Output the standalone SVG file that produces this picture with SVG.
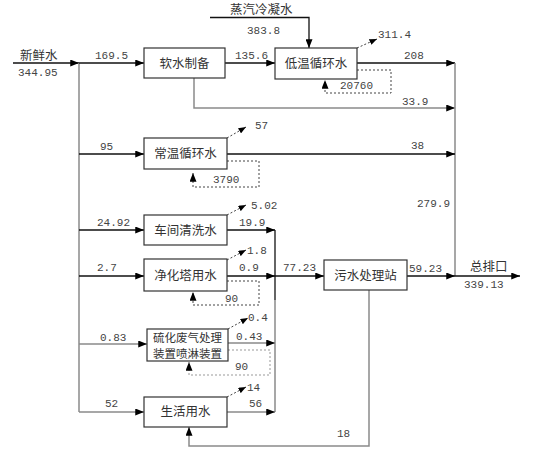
<svg xmlns="http://www.w3.org/2000/svg" width="541" height="456" viewBox="0 0 541 456">
<style>
.box{fill:#fff;stroke:#333;stroke-width:1.2}
.bl{fill:none;stroke:#111;stroke-width:1.3}
.gl{fill:none;stroke:#8a8a8a;stroke-width:1.5}
.dl{fill:none;stroke:#444;stroke-width:1;stroke-dasharray:2 2}
.dg{fill:none;stroke:#999;stroke-width:1;stroke-dasharray:2 2}
.n{font-family:"Liberation Mono",monospace;font-size:11px;fill:#444}
.c{font-family:"Noto Sans CJK SC",sans-serif;font-size:12.5px;fill:#333}
.ct{font-family:"Noto Sans CJK SC",sans-serif;font-size:12.5px;fill:#333;text-anchor:middle}
.cs{font-family:"Noto Sans CJK SC",sans-serif;font-size:11.5px;fill:#333;text-anchor:middle}
</style>
<defs>
<marker id="a" viewBox="0 0 10 8" refX="10" refY="4" markerWidth="10" markerHeight="7" markerUnits="userSpaceOnUse" orient="auto"><path d="M0,0 L10,4 L0,8 z" fill="#000"/></marker>
<marker id="s" viewBox="0 0 10 8" refX="10" refY="4" markerWidth="8" markerHeight="6" markerUnits="userSpaceOnUse" orient="auto"><path d="M0,0 L10,4 L0,8 z" fill="#000"/></marker>
</defs>
<g id="connectors">
<path class="bl" d="M13,63 H79" marker-end="url(#a)"/>
<path class="gl" d="M79,63 V412"/>
<path class="bl" d="M79,63 H144" marker-end="url(#a)"/>
<path class="bl" d="M225,63 H275" marker-end="url(#a)"/>
<path class="bl" d="M210,17.5 H309 V48" marker-end="url(#a)"/>
<path class="bl" d="M357,63 H455" marker-end="url(#a)"/>
<path class="dl" d="M357,48 L377,39" marker-end="url(#s)"/>
<path class="dl" d="M357,70 H391 V93 H325 V80" marker-end="url(#a)"/>
<path class="gl" d="M194,78 V108 H455" marker-end="url(#a)"/>
<path class="gl" d="M455,63 V276"/>
<path class="bl" d="M79,154 H144" marker-end="url(#a)"/>
<path class="bl" d="M227,154 H455" marker-end="url(#a)"/>
<path class="dl" d="M227,138 L246,127" marker-end="url(#s)"/>
<path class="dl" d="M227,161 H259 V187 H193 V173" marker-end="url(#a)"/>
<path class="bl" d="M79,230 H144" marker-end="url(#a)"/>
<path class="bl" d="M227,230 H275" marker-end="url(#a)"/>
<path class="dl" d="M227,215 L246,205" marker-end="url(#s)"/>
<path class="bl" d="M275,230 V300"/>
<path class="gl" d="M275,300 V412"/>
<path class="bl" d="M79,276 H144" marker-end="url(#a)"/>
<path class="bl" d="M227,276 H275" marker-end="url(#a)"/>
<path class="dl" d="M227,260 L246,250" marker-end="url(#s)"/>
<path class="dl" d="M227,281 H259 V305 H193 V292" marker-end="url(#a)"/>
<path class="bl" d="M275,276 H324" marker-end="url(#a)"/>
<path class="bl" d="M407,276 H455" marker-end="url(#a)"/>
<path class="bl" d="M455,276 H520" marker-end="url(#a)"/>
<path class="gl" d="M79,344 H147" marker-end="url(#a)"/>
<path class="gl" d="M228,343 H275" marker-end="url(#a)"/>
<path class="dl" d="M228,329 L248,318" marker-end="url(#s)"/>
<path class="dg" d="M228,350 H270 V375 H189 V362" marker-end="url(#a)"/>
<path class="gl" d="M79,412 H144" marker-end="url(#a)"/>
<path class="gl" d="M227,412 H275" marker-end="url(#a)"/>
<path class="dl" d="M227,397 L246,387" marker-end="url(#s)"/>
<path class="gl" d="M369,290 V446 H189 V427" marker-end="url(#a)"/>
</g>
<g id="soft"><rect class="box" x="144" y="48" width="81" height="30"/><text class="ct" x="184.5" y="68">软水制备</text></g>
<g id="lowtemp"><rect class="box" x="275" y="48" width="82" height="31"/><text class="ct" x="316" y="68">低温循环水</text></g>
<g id="normtemp"><rect class="box" x="144" y="138" width="83" height="31"/><text class="ct" x="185.5" y="158">常温循环水</text></g>
<g id="wash"><rect class="box" x="144" y="215" width="83" height="30"/><text class="ct" x="185.5" y="235">车间清洗水</text></g>
<g id="tower"><rect class="box" x="144" y="259" width="83" height="32"/><text class="ct" x="185.5" y="280">净化塔用水</text></g>
<g id="sulf"><rect class="box" x="147" y="329" width="81" height="32"/><text class="cs" x="187.5" y="341.5">硫化废气处理</text><text class="cs" x="187.5" y="357.5">装置喷淋装置</text></g>
<g id="life"><rect class="box" x="144" y="397" width="83" height="30"/><text class="ct" x="185.5" y="416">生活用水</text></g>
<g id="wwtp"><rect class="box" x="324" y="260" width="83" height="30"/><text class="ct" x="365.5" y="280">污水处理站</text></g>
<g id="labels">
<text class="c" x="20" y="60">新鲜水</text>
<text class="n" x="18" y="76">344.95</text>
<text class="n" x="95" y="59">169.5</text>
<text class="n" x="235" y="59">135.6</text>
<text class="c" x="230" y="14">蒸汽冷凝水</text>
<text class="n" x="247" y="34">383.8</text>
<text class="n" x="378" y="38">311.4</text>
<text class="n" x="404" y="59">208</text>
<text class="n" x="340" y="89">20760</text>
<text class="n" x="402" y="105">33.9</text>
<text class="n" x="255" y="129">57</text>
<text class="n" x="100" y="150">95</text>
<text class="n" x="411" y="149">38</text>
<text class="n" x="213" y="183">3790</text>
<text class="n" x="251" y="209">5.02</text>
<text class="n" x="97" y="226">24.92</text>
<text class="n" x="239" y="226">19.9</text>
<text class="n" x="417" y="207">279.9</text>
<text class="n" x="247" y="254">1.8</text>
<text class="n" x="97" y="271">2.7</text>
<text class="n" x="239" y="271">0.9</text>
<text class="n" x="283" y="271">77.23</text>
<text class="n" x="409" y="272">59.23</text>
<text class="c" x="470" y="271">总排口</text>
<text class="n" x="464" y="288">339.13</text>
<text class="n" x="225" y="302">90</text>
<text class="n" x="248" y="321">0.4</text>
<text class="n" x="100" y="341">0.83</text>
<text class="n" x="236" y="340">0.43</text>
<text class="n" x="235" y="370">90</text>
<text class="n" x="247" y="391">14</text>
<text class="n" x="105" y="407">52</text>
<text class="n" x="249" y="407">56</text>
<text class="n" x="337" y="437">18</text>
</g>
</svg>
